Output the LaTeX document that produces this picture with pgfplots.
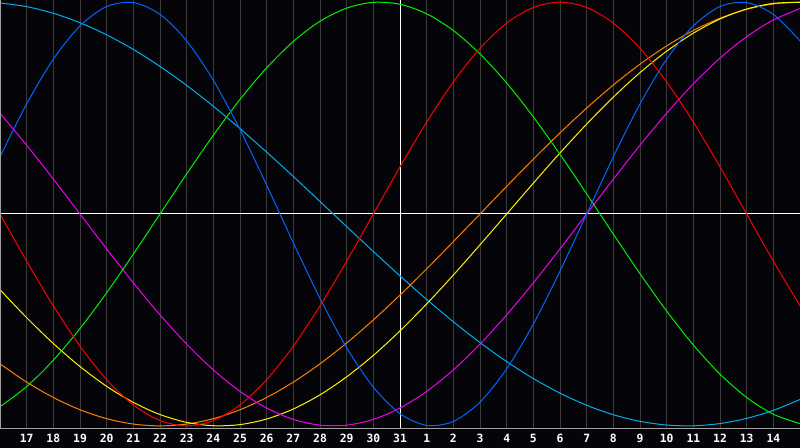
\documentclass[border=0pt]{standalone}
\usepackage{fontspec}
\setmonofont{DejaVu Sans Mono}
\usepackage{pgfplots}
\pgfplotsset{compat=1.18}
\definecolor{bg}{HTML}{050408}
\definecolor{gridc}{HTML}{3A3A3A}
\definecolor{framec}{HTML}{A0A0A0}
\definecolor{cblue}{HTML}{0066FF}
\definecolor{cgreen}{HTML}{00F000}
\definecolor{corange}{HTML}{FF7F00}
\definecolor{cmag}{HTML}{F000F0}
\begin{document}
\begin{tikzpicture}
\fill[bg] (0,-20bp) rectangle (800bp,428bp);
\useasboundingbox (0,-20bp) rectangle (800bp,428bp);
\begin{axis}[
    scale only axis, width=800bp, height=428bp,
    at={(0,0)}, anchor=south west,
    xmin=0, xmax=30, ymin=-1.01, ymax=1.01,
    axis line style={draw=none},
    xtick={1,...,29},
    xticklabels={17,18,19,20,21,22,23,24,25,26,27,28,29,30,31,1,2,3,4,5,6,7,8,9,10,11,12,13,14},
    ytick=\empty,
    major tick length=0pt,
    xmajorgrids, grid style={gridc, line width=1bp},
    xticklabel style={text=white, anchor=center, yshift=-10.5bp,
        font=\fontsize{11.4}{13}\selectfont\ttfamily\bfseries},
    every axis plot/.append style={line width=1bp, smooth, mark=none},
]
\draw[white, line width=1bp] (axis cs:15,-1.01) -- (axis cs:15,1.01);
\draw[white, line width=1bp] (axis cs:0,0) -- (axis cs:30,0);
% spiritual 53
\addplot[cyan] coordinates {
(0,0.9960)(1,0.9786)(2,0.9473)(3,0.9028)(4,0.8456)(5,0.7767)(6,0.6965)(7,0.6068)(8,0.5086)(9,0.4031)
(10,0.2920)(11,0.1769)(12,0.0592)(13,-0.0592)(14,-0.1769)(15,-0.2920)(16,-0.4031)(17,-0.5086)(18,-0.6068)(19,-0.6965)
(20,-0.7767)(21,-0.8456)(22,-0.9028)(23,-0.9473)(24,-0.9786)(25,-0.9960)(26,-0.9996)(27,-0.9890)(28,-0.9647)(29,-0.9267)(30,-0.8755)};
% awareness 48
\addplot[corange] coordinates {
(0,-0.7071)(1,-0.7934)(2,-0.8660)(3,-0.9239)(4,-0.9659)(5,-0.9914)(6,-1)(7,-0.9914)(8,-0.9659)(9,-0.9239)
(10,-0.8660)(11,-0.7934)(12,-0.7071)(13,-0.6088)(14,-0.5)(15,-0.3827)(16,-0.2588)(17,-0.1305)(18,0)(19,0.1305)
(20,0.2588)(21,0.3827)(22,0.5)(23,0.6088)(24,0.7071)(25,0.7934)(26,0.8660)(27,0.9239)(28,0.9659)(29,0.9914)(30,1)};
% aesthetic 43
\addplot[yellow] coordinates {
(0,-0.3572)(1,-0.4894)(2,-0.6112)(3,-0.7199)(4,-0.8133)(5,-0.8893)(6,-0.9465)(7,-0.9834)(8,-0.9993)(9,-0.9940)
(10,-0.9675)(11,-0.9204)(12,-0.8535)(13,-0.7685)(14,-0.6673)(15,-0.5517)(16,-0.4244)(17,-0.2881)(18,-0.1456)(19,0)
(20,0.1456)(21,0.2881)(22,0.4244)(23,0.5517)(24,0.6673)(25,0.7685)(26,0.8535)(27,0.9204)(28,0.9675)(29,0.9940)(30,0.9993)};
% intuitive 38
\addplot[cmag] coordinates {
(0,0.4759)(1,0.3247)(2,0.1646)(3,0)(4,-0.1646)(5,-0.3247)(6,-0.4759)(7,-0.6142)(8,-0.7357)(9,-0.8372)
(10,-0.9158)(11,-0.9694)(12,-0.9966)(13,-0.9966)(14,-0.9694)(15,-0.9158)(16,-0.8372)(17,-0.7357)(18,-0.6142)(19,-0.4759)
(20,-0.3247)(21,-0.1646)(22,0)(23,0.1646)(24,0.3247)(25,0.4759)(26,0.6142)(27,0.7357)(28,0.8372)(29,0.9158)(30,0.9694)};
% intellectual 33
\addplot[cgreen] coordinates {
(0,-0.9096)(1,-0.8146)(2,-0.6901)(3,-0.5406)(4,-0.3717)(5,-0.1893)(6,0)(7,0.1893)(8,0.3717)(9,0.5406)
(10,0.6901)(11,0.8146)(12,0.9096)(13,0.9718)(14,0.9989)(15,0.9898)(16,0.9450)(17,0.8660)(18,0.7557)(19,0.6182)
(20,0.4582)(21,0.2817)(22,0.0951)(23,-0.0951)(24,-0.2817)(25,-0.4582)(26,-0.6182)(27,-0.7557)(28,-0.8660)(29,-0.9450)(30,-0.9898)};
% physical 23
\addplot[cblue] coordinates {
(0,0.2698)(1,0.5196)(2,0.7308)(3,0.8879)(4,0.9791)(5,0.9977)(6,0.9423)(7,0.8170)(8,0.6311)(9,0.3984)
(10,0.1362)(11,-0.1362)(12,-0.3984)(13,-0.6311)(14,-0.8170)(15,-0.9423)(16,-0.9977)(17,-0.9791)(18,-0.8879)(19,-0.7308)
(20,-0.5196)(21,-0.2698)(22,0)(23,0.2698)(24,0.5196)(25,0.7308)(26,0.8879)(27,0.9791)(28,0.9977)(29,0.9423)(30,0.8170)};
% emotional 28
\addplot[red] coordinates {
(0,0)(1,-0.2225)(2,-0.4339)(3,-0.6235)(4,-0.7818)(5,-0.9010)(6,-0.9749)(7,-1)(8,-0.9749)(9,-0.9010)
(10,-0.7818)(11,-0.6235)(12,-0.4339)(13,-0.2225)(14,0)(15,0.2225)(16,0.4339)(17,0.6235)(18,0.7818)(19,0.9010)
(20,0.9749)(21,1)(22,0.9749)(23,0.9010)(24,0.7818)(25,0.6235)(26,0.4339)(27,0.2225)(28,0)(29,-0.2225)(30,-0.4339)};
\draw[framec, line width=1bp] (rel axis cs:1,1) -- (rel axis cs:0,1) -- (rel axis cs:0,0) -- (rel axis cs:1,0);
\end{axis}
\end{tikzpicture}
\end{document}
